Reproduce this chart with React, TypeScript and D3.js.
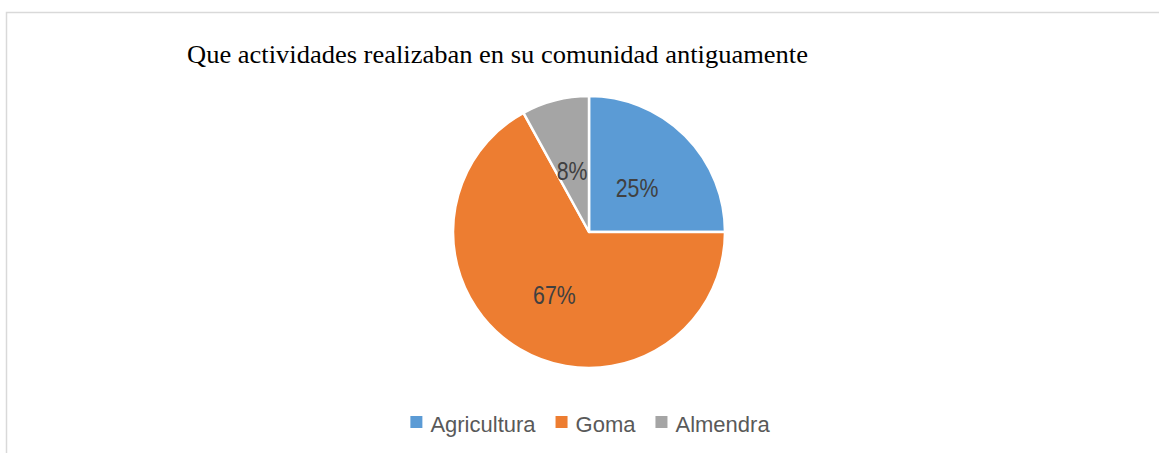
import React, { useEffect, useRef } from 'react'
import * as d3 from 'd3'

// datos
const categorias = ['Agricultura', 'Goma', 'Almendra']
const porcentajes = [25, 67, 8]
const colores = ['#5B9BD5', '#ED7D31', '#A5A5A5']
const titulo = 'Que actividades realizaban en su comunidad antiguamente'

const W = 1159
const H = 453

export default function App() {
  const ref = useRef<SVGSVGElement>(null)

  useEffect(() => {
    const svg = d3.select(ref.current)
    svg.selectAll('*').remove()

    // marco del grafico (se sale por la derecha y por abajo)
    svg.append('rect')
      .attr('x', 6.5).attr('y', 12.5)
      .attr('width', W + 10).attr('height', H + 10)
      .attr('fill', 'white')
      .attr('stroke', '#d9d9d9')
      .attr('stroke-width', 1.5)

    // el titulo del original sale un poco estirado a lo ancho
    svg.append('text')
      .attr('x', 187).attr('y', 63)
      .attr('textLength', 621)
      .attr('lengthAdjust', 'spacingAndGlyphs')
      .style('font-family', '"Liberation Serif", "Times New Roman", serif')
      .style('font-size', '25px')
      .attr('fill', '#000')
      .text(titulo)

    const cx = 589, cy = 232, r = 136
    const pie = d3.pie<number>().sort(null).value(d => d)
    const arcs = pie(porcentajes)
    const arc = d3.arc<d3.PieArcDatum<number>>().innerRadius(0).outerRadius(r)
    const labelArc = d3.arc<d3.PieArcDatum<number>>().innerRadius(r * 0.5).outerRadius(r * 0.5)

    const g = svg.append('g').attr('transform', `translate(${cx},${cy})`)
    g.selectAll('path')
      .data(arcs)
      .enter()
      .append('path')
      .attr('d', arc)
      .attr('fill', (d, i) => colores[i])
      .attr('stroke', 'white')
      .attr('stroke-width', 2.5)
      .attr('stroke-linejoin', 'round')

    // etiquetas algo comprimidas, como en el original
    g.selectAll('text.lbl')
      .data(arcs)
      .enter()
      .append('text')
      .attr('class', 'lbl')
      .attr('transform', d => {
        const [x, y] = labelArc.centroid(d)
        return `translate(${x},${y + 4}) scale(0.82,1)`
      })
      .attr('text-anchor', 'middle')
      .attr('dy', '0.36em')
      .style('font-family', '"Liberation Sans", Arial, sans-serif')
      .style('font-size', '26px')
      .attr('fill', '#404040')
      .text(d => d.data + '%')

    // leyenda centrada bajo el pastel
    const leg = svg.append('g')
    let x = 0
    categorias.forEach((c, i) => {
      const item = leg.append('g').attr('transform', `translate(${x},0)`)
      item.append('rect')
        .attr('x', 0).attr('y', -16)
        .attr('width', 12).attr('height', 12)
        .attr('fill', colores[i])
      const t = item.append('text')
        .attr('x', 20).attr('y', 0)
        .style('font-family', '"Liberation Sans", Arial, sans-serif')
        .style('font-size', '22px')
        .attr('fill', '#595959')
        .text(c)
      const tw = (t.node() as SVGTextElement).getComputedTextLength()
      x += 20 + tw + 20
    })
    const total = x - 20
    leg.attr('transform', `translate(${cx + 1 - total / 2},${432})`)
  }, [])

  return (
    <svg
      ref={ref}
      width={W}
      height={H}
      style={{ position: 'absolute', left: 0, top: 0, background: 'white' }}
    />
  )
}
